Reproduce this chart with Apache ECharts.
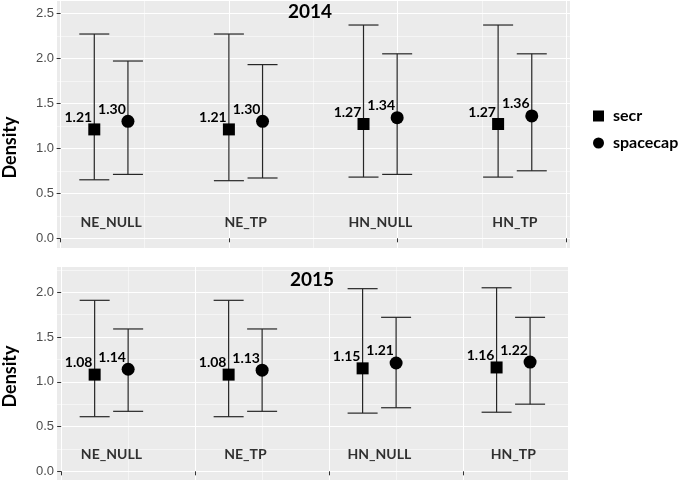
<!DOCTYPE html>
<html>
<head>
<meta charset="utf-8">
<script src="https://cdn.jsdelivr.net/npm/echarts@6/dist/echarts.min.js"></script>
<style>
  html, body { margin: 0; padding: 0; background: #fff; }
</style>
</head>
<body>
<div id="main" style="width: 685px;height:487px;"></div>
<script>
// models and years
var groups = ['NE_NULL', 'NE_TP', 'HN_NULL', 'HN_TP']
var years = ['2014', '2015']

// 2014 estimates with lower / upper bounds
var secr2014 = [1.21, 1.21, 1.27, 1.27]
var secrLo2014 = [0.65, 0.64, 0.68, 0.68]
var secrHi2014 = [2.27, 2.27, 2.37, 2.37]
var cap2014 = [1.30, 1.30, 1.34, 1.36]
var capLo2014 = [0.71, 0.67, 0.71, 0.75]
var capHi2014 = [1.97, 1.93, 2.05, 2.05]

// 2015
var secr2015 = [1.08, 1.08, 1.15, 1.16]
var secrLo2015 = [0.61, 0.61, 0.65, 0.66]
var secrHi2015 = [1.91, 1.91, 2.04, 2.05]
var cap2015 = [1.14, 1.13, 1.21, 1.22]
var capLo2015 = [0.67, 0.67, 0.71, 0.75]
var capHi2015 = [1.59, 1.59, 1.72, 1.72]

// tick values
var yTicks2014 = [0, 0.5, 1, 1.5, 2, 2.5]
var yMinor2014 = [0.25, 0.75, 1.25, 1.75, 2.25]
var yTicks2015 = [0, 0.5, 1, 1.5, 2]
var yMinor2015 = [0.25, 0.75, 1.25, 1.75, 2.25]
var xTicks2014 = [-0.005, 1.249, 2.502, 3.755]
var xMinor2014 = [0.622, 1.876, 3.129]
var xTicks2015 = [0, 1, 2, 3]
var xMinor2015 = [0.5, 1.5, 2.5, 3.5]

var chart = echarts.init(document.getElementById('main'))
var BOLD = 'Lato'

var panels = [
  { secr: secr2014, secrLo: secrLo2014, secrHi: secrHi2014, cap: cap2014, capLo: capLo2014, capHi: capHi2014,
    yTicks: yTicks2014, yMinor: yMinor2014, xTicks: xTicks2014, xMinor: xMinor2014,
    xMin: -0.027, xMax: 3.784, yMin: -0.108, yMax: 2.637, labY: 0.175, namePad: [0, 46, 0, 0] },
  { secr: secr2015, secrLo: secrLo2015, secrHi: secrHi2015, cap: cap2015, capLo: capLo2015, capHi: capHi2015,
    yTicks: yTicks2015, yMinor: yMinor2015, xTicks: xTicks2015, xMinor: xMinor2015,
    xMin: -0.031, xMax: 3.783, yMin: -0.097, yMax: 2.282, labY: 0.19, namePad: [0, 6, 0, 0] }
]

function renderBar (params, api) {
  var x = api.value(0)
  var lo = api.coord([x, api.value(1)])
  var hi = api.coord([x, api.value(2)])
  var w = 15
  var style = { stroke: '#262626', lineWidth: 1.2 }
  return {
    type: 'group',
    children: [
      { type: 'line', shape: { x1: lo[0], y1: lo[1], x2: hi[0], y2: hi[1] }, style: style },
      { type: 'line', shape: { x1: lo[0] - w, y1: lo[1], x2: lo[0] + w, y2: lo[1] }, style: style },
      { type: 'line', shape: { x1: hi[0] - w, y1: hi[1], x2: hi[0] + w, y2: hi[1] }, style: style }
    ]
  }
}

var valueLabel = {
  show: true,
  position: 'inside',
  offset: [-16, -12],
  formatter: function (p) { return p.value[1].toFixed(2) },
  fontFamily: BOLD,
  fontWeight: 'bold',
  fontSize: 14,
  color: '#000'
}

var grids = [
  { left: 57, top: 1, width: 513, height: 247 },
  { left: 57, top: 267, width: 511, height: 213 }
]
var xAxes = []
var yAxes = []
var series = []

panels.forEach(function (p, i) {
  grids[i].show = true
  grids[i].backgroundColor = '#EBEBEB'
  grids[i].borderWidth = 0
  grids[i].containLabel = false
  grids[i].outerBoundsMode = 'none'

  xAxes.push({
    gridIndex: i, type: 'value', min: p.xMin, max: p.xMax,
    axisLine: { show: false },
    axisTick: { show: true, customValues: p.xTicks, length: 4, lineStyle: { color: '#333' } },
    axisLabel: { show: false },
    splitLine: { show: true, lineStyle: { color: '#fff', width: 1.1 } }
  })
  xAxes.push({
    gridIndex: i, type: 'value', min: p.xMin, max: p.xMax,
    axisLine: { show: false },
    axisTick: { show: false, customValues: p.xMinor },
    axisLabel: { show: false },
    splitLine: { show: true, lineStyle: { color: '#fff', width: 0.5 } }
  })
  yAxes.push({
    gridIndex: i, type: 'value', min: p.yMin, max: p.yMax, position: 'left',
    name: 'Density', nameLocation: 'middle', nameRotate: 90, nameGap: 38,
    nameTextStyle: { fontFamily: BOLD, fontWeight: 'bold', fontSize: 18, color: '#000', padding: p.namePad },
    axisLine: { show: false },
    axisTick: { show: true, customValues: p.yTicks, length: 4, lineStyle: { color: '#333' } },
    axisLabel: {
      customValues: p.yTicks, margin: 3, color: '#4D4D4D', fontSize: 13, fontFamily: 'Liberation Sans',
      formatter: function (v) { return v.toFixed(1) }
    },
    splitLine: { show: true, lineStyle: { color: '#fff', width: 1.1 } }
  })
  yAxes.push({
    gridIndex: i, type: 'value', min: p.yMin, max: p.yMax, position: 'left',
    axisLine: { show: false },
    axisTick: { show: false, customValues: p.yMinor },
    axisLabel: { show: false },
    splitLine: { show: true, lineStyle: { color: '#fff', width: 0.5 } }
  })

  var bars = []
  var secrPts = []
  var capPts = []
  var labPts = []
  groups.forEach(function (g, k) {
    bars.push([k + 0.25, p.secrLo[k], p.secrHi[k]])
    bars.push([k + 0.5, p.capLo[k], p.capHi[k]])
    secrPts.push([k + 0.25, p.secr[k]])
    capPts.push([k + 0.5, p.cap[k]])
    labPts.push({ name: g, value: [k + 0.375, p.labY] })
  })

  series.push({
    type: 'custom', name: 'ci' + years[i], xAxisIndex: 2 * i, yAxisIndex: 2 * i,
    renderItem: renderBar, data: bars, z: 2, silent: true
  })
  series.push({
    type: 'scatter', name: 'secr', xAxisIndex: 2 * i, yAxisIndex: 2 * i,
    symbol: 'rect', symbolSize: 12, itemStyle: { color: '#000', opacity: 1 },
    label: valueLabel, data: secrPts, z: 3
  })
  series.push({
    type: 'scatter', name: 'spacecap', xAxisIndex: 2 * i, yAxisIndex: 2 * i,
    symbol: 'circle', symbolSize: 13, itemStyle: { color: '#000', opacity: 1 },
    label: valueLabel, data: capPts, z: 3
  })
  series.push({
    type: 'scatter', name: 'models' + years[i], xAxisIndex: 2 * i, yAxisIndex: 2 * i,
    symbolSize: 0, silent: true,
    label: { show: true, position: 'inside', formatter: '{b}', fontFamily: BOLD, fontWeight: 'bold', fontSize: 14, color: '#000' },
    data: labPts, z: 3
  })
})

var option = {
  backgroundColor: '#fff',
  animation: false,
  title: [
    { text: years[0], left: 288, top: 2, padding: 0, textStyle: { fontFamily: BOLD, fontWeight: 'bold', fontSize: 19, color: '#000' } },
    { text: years[1], left: 290, top: 270, padding: 0, textStyle: { fontFamily: BOLD, fontWeight: 'bold', fontSize: 19, color: '#000' } }
  ],
  legend: {
    data: ['secr', 'spacecap'],
    orient: 'vertical',
    left: 593,
    top: 108,
    padding: 0,
    itemWidth: 11,
    itemHeight: 11,
    itemGap: 11,
    selectedMode: false,
    textStyle: { fontFamily: BOLD, fontWeight: 'bold', fontSize: 16, lineHeight: 16, color: '#000', padding: [0, 0, 0, 4] }
  },
  grid: grids,
  xAxis: xAxes,
  yAxis: yAxes,
  series: series
}
option && chart.setOption(option)
</script>
</body>
</html>
